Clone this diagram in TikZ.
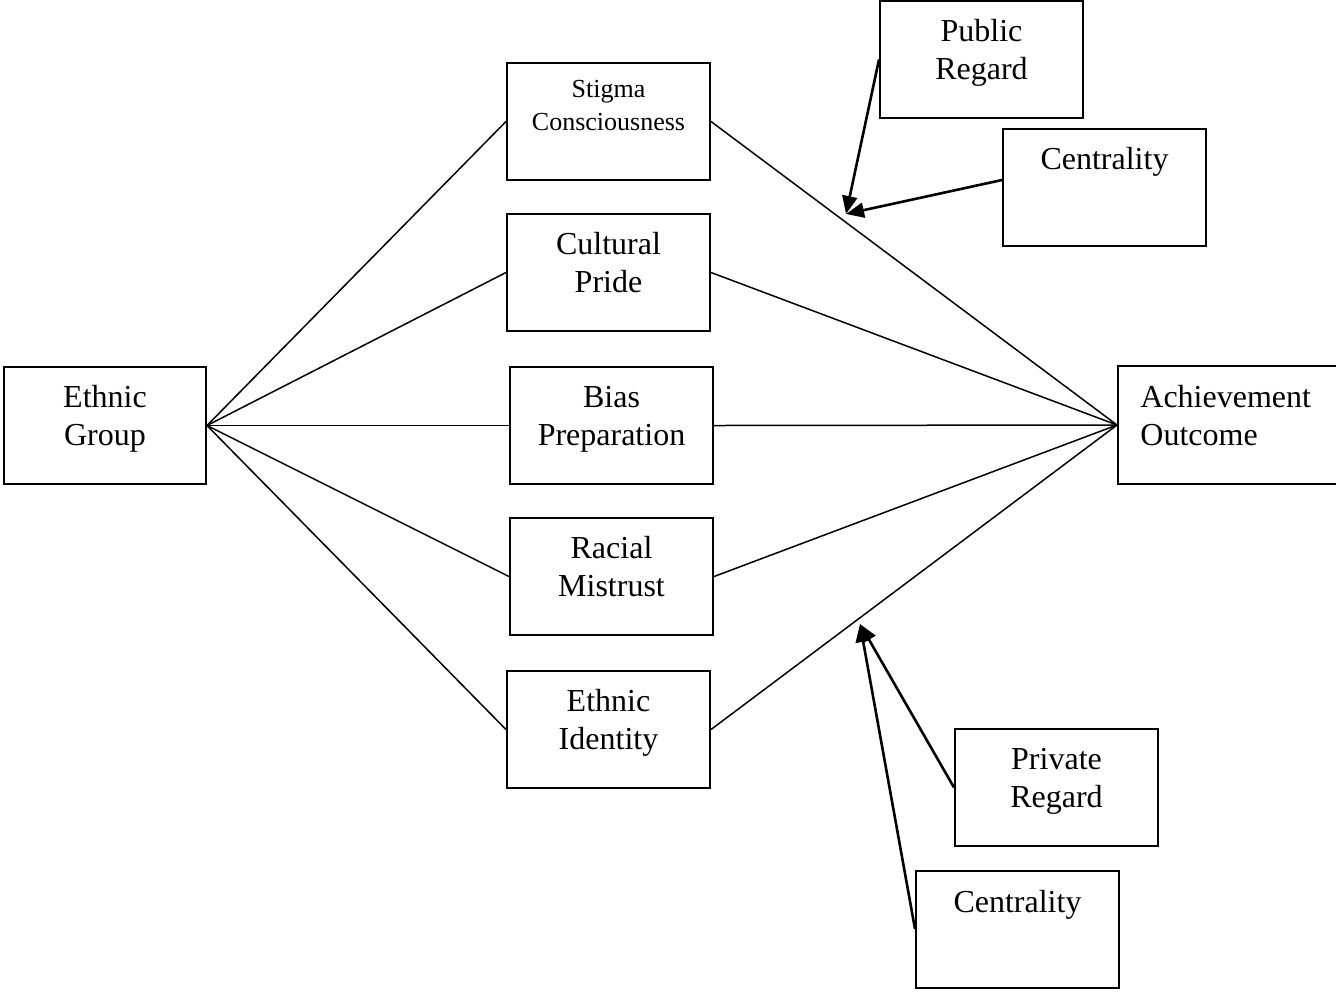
\documentclass[tikz,border=0pt]{standalone}
\usepackage{fontspec}
\setmainfont{Liberation Serif}
\usetikzlibrary{arrows.meta,calc}
\tikzset{
  box/.style={draw, line width=1pt, inner sep=0pt, minimum width=101.5pt, minimum height=58.5pt},
  lbl/.style={anchor=north, inner sep=0pt, align=center, font=\fontsize{16}{19}\selectfont},
  small/.style={font=\fontsize{13}{16.5}\selectfont},
  link/.style={line width=0.75pt},
  mod/.style={line width=1.3pt, -{Triangle[length=9pt,width=7.5pt]}},
}
\begin{document}
\begin{tikzpicture}[x=0.5pt,y=-0.5pt]
\useasboundingbox (0,0) rectangle (1336,992);
\clip (0,0) rectangle (1336,992);
% boxes
\node[box, minimum width=101pt] (eg) at (105,425.5) {};
\node[box] (sc) at (608.5,121.5) {};
\node[box] (cp) at (608.5,272.5) {};
\node[box] (bp) at (611.5,425.5) {};
\node[box] (rm) at (611.5,576.5) {};
\node[box] (ei) at (608.5,729.5) {};
\node[box, minimum width=112pt, minimum height=59pt, anchor=west] (ao) at (1117,425) {};
\node[box] (pr) at (981.5,59.5) {};
\node[box] (c1) at (1104.5,187.5) {};
\node[box] (prr) at (1056.5,787.5) {};
\node[box] (c2) at (1017.5,929) {};
% labels
\node[lbl] at ([yshift=-7pt]eg.north) {\strut Ethnic\\\strut Group};
\node[lbl, small] at ([yshift=-5.75pt]sc.north) {\strut Stigma\\\strut Consciousness};
\node[lbl] at ([yshift=-7pt]cp.north) {\strut Cultural\\\strut Pride};
\node[lbl] at ([yshift=-7pt]bp.north) {\strut Bias\\\strut Preparation};
\node[lbl] at ([yshift=-7pt]rm.north) {\strut Racial\\\strut Mistrust};
\node[lbl] at ([yshift=-7pt]ei.north) {\strut Ethnic\\\strut Identity};
\node[lbl, align=left, anchor=north west] at (1140,380) {\strut Achievement\\\strut Outcome};
\node[lbl] at ([yshift=-7pt]pr.north) {\strut Public\\\strut Regard};
\node[lbl] at ([yshift=-7pt]c1.north) {\strut Centrality};
\node[lbl] at ([yshift=-7pt]prr.north) {\strut Private\\\strut Regard};
\node[lbl] at ([yshift=-8pt]c2.north) {\strut Centrality};
% connectors
\foreach \m in {sc,cp,bp,rm,ei}{
  \draw[link] (eg.east) -- (\m.west);
  \draw[link] (\m.east) -- (ao.west);
}
% moderator arrows
\coordinate (t1) at (846,214);
\coordinate (t2) at (860,624);
\draw[mod] (pr.west) -- (t1);
\draw[mod] ([yshift=3.75pt]c1.west) -- (t1);
\draw[mod] (prr.west) -- (t2);
\draw[mod] (c2.west) -- (t2);
\end{tikzpicture}
\end{document}
